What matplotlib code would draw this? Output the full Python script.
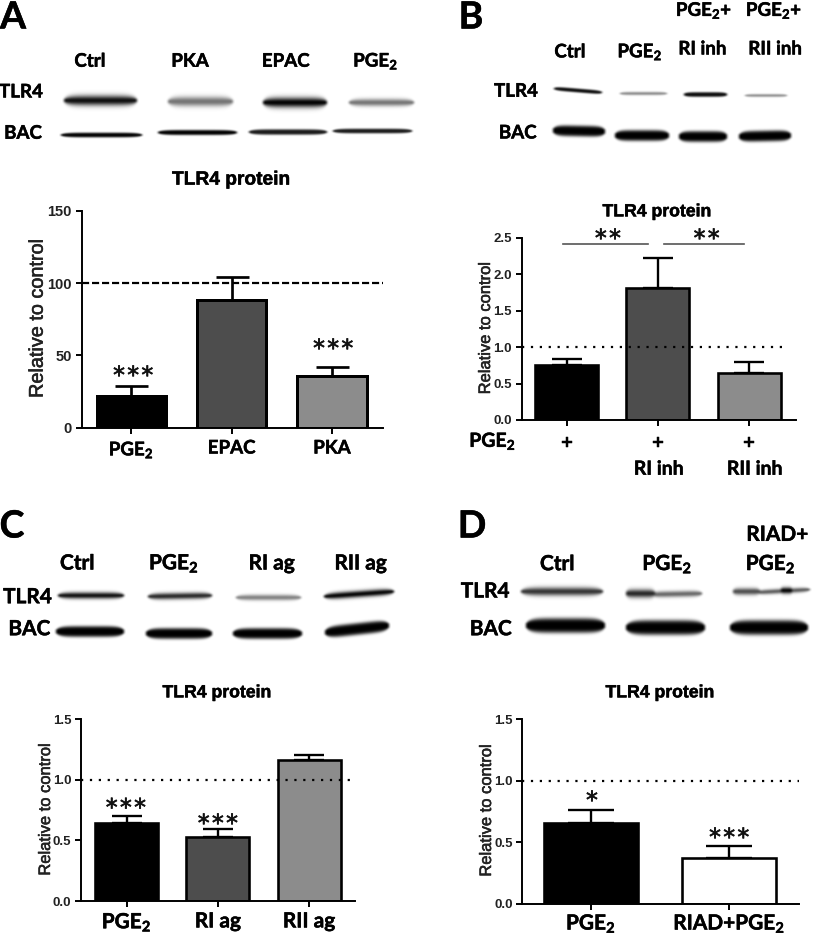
import numpy as np
import matplotlib
matplotlib.use("Agg")
import matplotlib.pyplot as plt
import matplotlib.patheffects as pe

plt.rcParams["mathtext.default"] = "regular"

WIDTH, HEIGHT = 815, 935
DPI = 100
LABEL_FONT = "Lato"
AXIS_FONT = "Liberation Sans"
HEAVY = [pe.withStroke(linewidth=0.35, foreground="black")]

# -------------------------
# Data
# -------------------------
a_labels = ["PGE$_2$", "EPAC", "PKA"]
a_values = [22, 88, 36]
a_tops = [29, 104, 42]

b_labels = ["+", "+", "+"]
b_values = [0.76, 1.81, 0.65]
b_tops = [0.84, 2.22, 0.79]

c_labels = ["PGE$_2$", "RI ag", "RII ag"]
c_values = [0.64, 0.53, 1.16]
c_tops = [0.70, 0.59, 1.20]

d_labels = ["PGE$_2$", "RIAD+PGE$_2$"]
d_values = [0.66, 0.37]
d_tops = [0.76, 0.47]

ticks_150 = [0, 50, 100, 150]
ticks_25 = [0.0, 0.5, 1.0, 1.5, 2.0, 2.5]
ticks_15 = [0.0, 0.5, 1.0, 1.5]

BLACK, DARK, GREY, WHITE = "#000000", "#4d4d4d", "#8c8c8c", "#ffffff"

# blot bands, pixels: x0, x1, y at x0, y at x1, half thickness, darkness
bands_soft = [
    (63, 137, 100, 100, 5.0, 0.95), (167, 233, 101, 101, 4.8, 0.55),
    (262, 327, 102, 102, 5.0, 1.00), (348, 414, 102, 102, 3.6, 0.55),
    (619, 667, 93, 93, 1.5, 0.50), (744, 787, 95, 95, 1.3, 0.50),
    (57, 124, 595, 595, 3.2, 0.95), (147, 212, 596, 595, 3.2, 0.85),
    (235, 301, 597, 597, 2.8, 0.50), (323, 394, 596, 591, 3.3, 1.00),
    (520, 603, 591, 591, 4.2, 0.80), (625, 655, 593, 593, 4.2, 0.85),
    (650, 702, 594, 593, 3.0, 0.60), (732, 760, 591, 591, 3.4, 0.70),
    (755, 810, 592, 589, 2.4, 0.65), (780, 792, 590, 590, 3.2, 1.00),
]
bands_hard = [
    (60, 142, 134.5, 134.5, 2.4, 1.0), (157, 237, 132, 132, 2.6, 1.0),
    (248, 327, 131.5, 131.5, 2.8, 0.9), (332, 412, 130.5, 130.5, 2.4, 0.9),
    (553, 602, 88, 92, 2.0, 0.95), (683, 727, 94, 94, 2.4, 0.95),
    (552, 605, 130, 131, 5.5, 1.0), (614, 669, 135, 135, 5.5, 1.0),
    (678, 727, 136, 136, 5.5, 1.0), (738, 791, 136, 135, 5.5, 1.0),
    (55, 124, 631, 631, 5.5, 1.0), (145, 212, 633, 633, 5.5, 1.0),
    (232, 302, 633, 633, 5.5, 1.0), (324, 389, 632, 625, 6.0, 1.0),
    (525, 605, 625, 625, 7.5, 1.0), (625, 705, 627, 627, 7.5, 1.0),
    (729, 808, 627, 627, 7.5, 1.0),
]


# -------------------------
# Helpers
# -------------------------

def paint_bands(canvas, bands, power):
    """Darken the canvas with tapered blot bands."""
    yy, xx = np.mgrid[0:HEIGHT, 0:WIDTH]
    for x0, x1, y0, y1, half, dark in bands:
        u = (xx - x0) / (x1 - x0)
        inside = (u > 0) & (u < 1)
        taper = np.sqrt(np.clip(1 - (2 * u - 1) ** 6, 1e-3, 1))
        centre = y0 + (y1 - y0) * u
        band = dark * np.exp(-np.abs((yy - centre) / (half * taper)) ** power)
        canvas[inside] = np.maximum(canvas[inside], band[inside])


def soften(canvas):
    """Small blur so the band ends are not cut sharp."""
    kernel = np.array([1, 2, 3, 2, 1]) / 9
    out = np.apply_along_axis(lambda row: np.convolve(row, kernel, mode="same"), 1, canvas)
    kernel = np.array([1, 2, 1]) / 4
    return np.apply_along_axis(lambda col: np.convolve(col, kernel, mode="same"), 0, out)


def put_text(x, y, s, size, family=LABEL_FONT):
    """Bold text with its capitals centred on pixel (x, y)."""
    base = y + size / 2
    fig.text(x / WIDTH, 1 - base / HEIGHT, s, fontsize=size, family=family, fontweight="bold",
             ha="center", va="baseline", path_effects=HEAVY)


def put_stars(x, y, n):
    """n asterisks centred on pixel (x, y), a hair space between them."""
    fig.text(x / WIDTH, 1 - (y + 12) / HEIGHT, "\u200a".join("*" * n), fontsize=17,
             family="DejaVu Sans", ha="center", va="baseline", color="#111111", zorder=10,
             path_effects=[pe.withStroke(linewidth=0.5, foreground="#111111")])


def draw_panel(box, first, step, labels, values, tops, colors, ylim, yticks, tick_fmt,
               bar_w, cap_px, lw_px, ref, ref_style, ref_end, tick_size, label_size,
               label_pad, ylab_x, ylab_y, ylab_size):
    left, right, top, bottom = box
    ax = fig.add_axes([left / WIDTH, 1 - bottom / HEIGHT,
                       (right - left) / WIDTH, (bottom - top) / HEIGHT])
    ax.patch.set_alpha(0)
    x = np.arange(len(values))
    ax.set_xlim((left - first) / step, (right - first) / step)
    ax.set_ylim(*ylim)

    lw = lw_px * 0.72
    ax.bar(x, values, width=bar_w, color=colors, edgecolor="black", linewidth=lw, zorder=2)
    up = np.array(tops) - np.array(values)
    ax.errorbar(x, values, yerr=[np.zeros(len(up)), up], fmt="none", ecolor="black",
                elinewidth=lw * 0.9, capsize=cap_px * 0.36, capthick=lw * 0.9, zorder=1)
    ref_x1 = (ref_end - first) / step
    ax.plot([ax.get_xlim()[0], ref_x1], [ref, ref], color="black", lw=1.6,
            linestyle=ref_style, zorder=3, clip_on=False)

    for side in ["top", "right"]:
        ax.spines[side].set_visible(False)
    for side in ["left", "bottom"]:
        ax.spines[side].set_linewidth(1.4)
    ax.set_yticks(yticks)
    ax.set_yticklabels([tick_fmt.format(t) for t in yticks], fontsize=tick_size,
                       family=AXIS_FONT, fontweight="bold", color="#222222")
    ax.set_xticks(x)
    ax.set_xticklabels(labels, fontsize=label_size, family=LABEL_FONT, fontweight="bold",
                       path_effects=HEAVY)
    ax.tick_params(axis="y", length=4, width=1.4, pad=3)
    ax.tick_params(axis="x", length=4.5, width=1.4, pad=label_pad)
    ax.set_ylabel("Relative to control", fontsize=ylab_size, family=AXIS_FONT, color="#222222",
                  path_effects=[pe.withStroke(linewidth=0.4, foreground="#222222")])
    ax.yaxis.set_label_coords((ylab_x + 10) / WIDTH, 1 - ylab_y / HEIGHT, transform=fig.transFigure)
    return ax


# -------------------------
# Figure
# -------------------------
fig = plt.figure(figsize=(WIDTH / DPI, HEIGHT / DPI), dpi=DPI, facecolor="white")

# blots go on a full figure backdrop
canvas = np.zeros((HEIGHT, WIDTH))
paint_bands(canvas, bands_soft, 2)
paint_bands(canvas, bands_hard, 4)
canvas = soften(canvas)
back = fig.add_axes([0, 0, 1, 1], zorder=-1)
back.imshow(1 - canvas, cmap="gray", vmin=0, vmax=1, aspect="auto", interpolation="bilinear")
back.axis("off")

dash = (0, (3.2, 1.3))
dots = (0, (1, 3))

draw_panel((81.7, 382.7, 210.7, 427.7), 131.3, 100.3, a_labels, a_values, a_tops,
           [BLACK, DARK, GREY], (0, 150), ticks_150, "{:d}", 0.69, 33, 3.0,
           100, dash, 382.7, 10.5, 13.5, 4, 36.7, 318, 14.3)
ax_b = draw_panel((521.7, 795.7, 237.7, 420), 566.7, 91.2, b_labels, b_values, b_tops,
                  [BLACK, DARK, GREY], (0, 2.5), ticks_25, "{:.1f}", 0.69, 30, 2.6,
                  1.0, dots, 787, 9.5, 15, 5, 483, 327.7, 11.9)
draw_panel((81, 355, 719, 901), 126.7, 91.2, c_labels, c_values, c_tops,
           [BLACK, DARK, GREY], (0, 1.5), ticks_15, "{:.1f}", 0.69, 30, 2.6,
           1.0, dots, 353, 9.5, 15, 3, 43, 809, 11.9)
draw_panel((522.3, 799.3, 719.3, 903.7), 591, 138.3, d_labels, d_values, d_tops,
           [BLACK, WHITE], (0, 1.5), ticks_15, "{:.1f}", 0.68, 46, 2.6,
           1.0, dots, 799.3, 9.5, 15, 2, 484, 810, 11.9)

# significance brackets in panel B
for x0, x1 in [(563.3, 648.3), (664, 744)]:
    ax_b.plot([(x0 - 566.7) / 91.2, (x1 - 566.7) / 91.2], [2.42, 2.42],
              color="#555555", lw=1.2, clip_on=False)

# panel letters
for letter, x, y in [("A", 13, 15), ("B", 471, 15), ("C", 12, 524), ("D", 472, 524)]:
    put_text(x, y, letter, 27)

# blot headers
for x, y, s, size in [
    (90, 60, "Ctrl", 13.5), (190, 60, "PKA", 13.5), (285.7, 60, "EPAC", 13.5), (375.7, 60, "PGE$_2$", 13.5),
    (21, 90.7, "TLR4", 13.5), (23, 132, "BAC", 13.5),
    (570, 50.7, "Ctrl", 13.5), (640, 50.7, "PGE$_2$", 13.5),
    (704, 9.3, "PGE$_2$+", 13.5), (702.3, 47.7, "RI inh", 13.5),
    (774, 9.3, "PGE$_2$+", 13.5), (775, 47.7, "RII inh", 13.5),
    (516, 90, "TLR4", 13.5), (517.7, 131.7, "BAC", 13.5),
    (77.3, 562, "Ctrl", 15), (174, 562, "PGE$_2$", 15), (271.7, 562, "RI ag", 15), (360.7, 562, "RII ag", 15),
    (27.3, 595.7, "TLR4", 15), (29.3, 627.7, "BAC", 15),
    (557.3, 562.7, "Ctrl", 15), (667.3, 562.7, "PGE$_2$", 15),
    (777.3, 533.3, "RIAD+", 15), (770.7, 562.7, "PGE$_2$", 15),
    (485, 590, "TLR4", 15), (490.7, 627.7, "BAC", 15),
]:
    put_text(x, y, s, size)

# chart titles
for x, y, size in [(231, 177.7, 13.8), (657, 210, 12.7), (217, 691, 12.7), (660, 691, 12.7)]:
    put_text(x, y, "TLR4 protein", size, family=AXIS_FONT)

# labels under panel B
for x, y, s in [(492.7, 440, "PGE$_2$"), (659, 467.7, "RI inh"), (755, 467.7, "RII inh")]:
    put_text(x, y, s, 14)

# significance stars
for x, y, n in [
    (133.3, 371, 3), (333.3, 344, 3),
    (608, 234, 2), (706.7, 234, 2),
    (126, 803.3, 3), (218, 819, 3),
    (592, 796, 1), (729.3, 833, 3),
]:
    put_stars(x, y, n)

fig.savefig("out.png", dpi=DPI)
